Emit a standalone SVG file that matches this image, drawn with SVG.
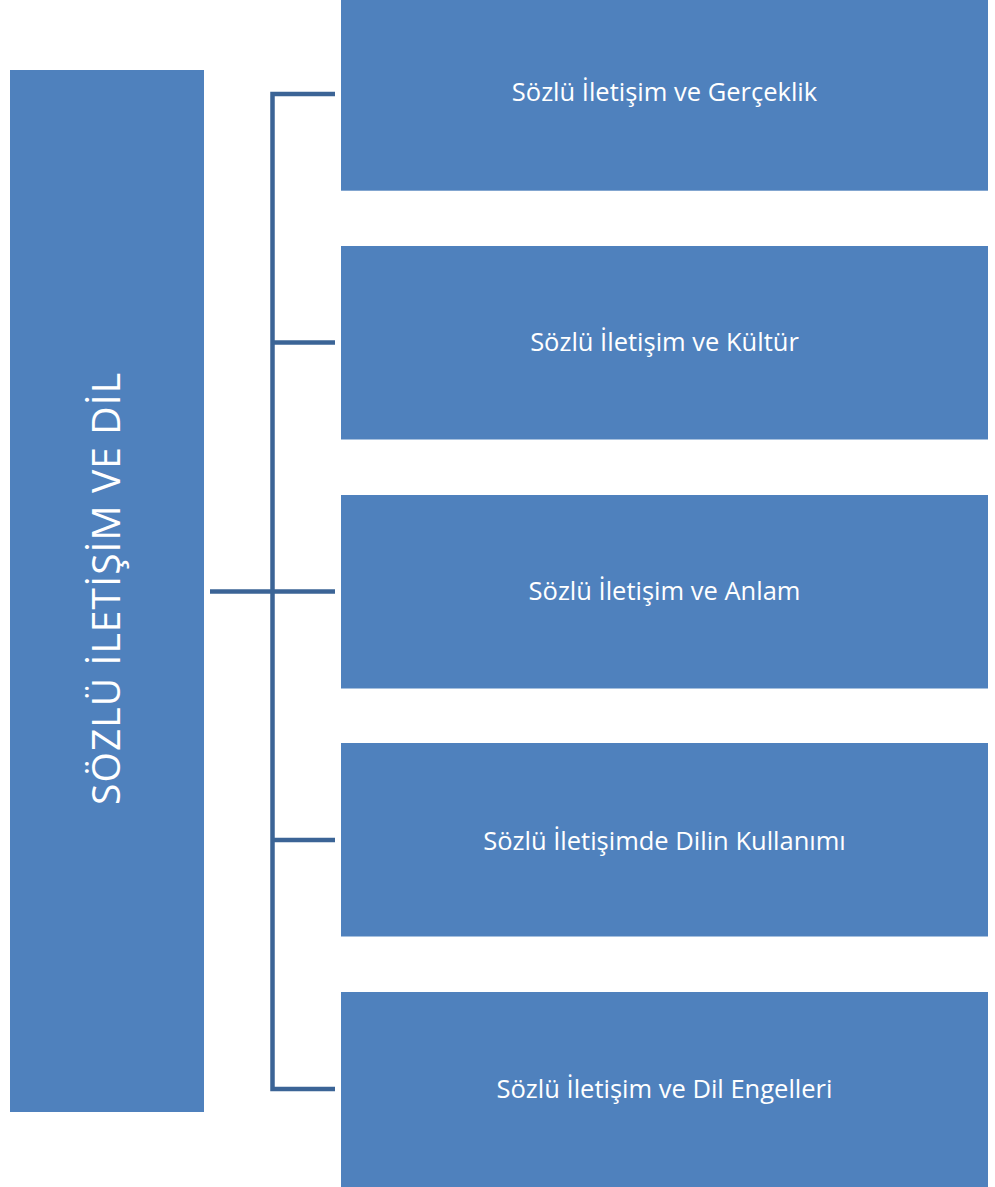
<svg xmlns="http://www.w3.org/2000/svg" width="995" height="1187" viewBox="0 0 995 1187">
<style>
.box{fill:#4f81bd;}
.lbl{font-family:"Open Sans","Noto Sans","Liberation Sans",sans-serif;font-size:25.5px;fill:#ffffff;text-anchor:middle;}
.title{font-family:"Open Sans","Noto Sans","Liberation Sans",sans-serif;font-size:39px;fill:#ffffff;text-anchor:middle;}
.conn{fill:none;stroke:#3b6496;stroke-width:4.5;}
</style>
<rect x="0" y="0" width="995" height="1187" fill="#ffffff"/>
<g id="connectors">
<path class="conn" d="M335,94 H272.5 V1089 H335"/>
<path class="conn" d="M210,591.5 H335"/>
<path class="conn" d="M272.5,342.5 H335"/>
<path class="conn" d="M272.5,840 H335"/>
</g>
<g id="root">
<rect class="box" x="10" y="70" width="194" height="1042"/>
<text class="title" transform="translate(120,589) rotate(-90)" x="0" y="0" textLength="432" lengthAdjust="spacing">SÖZLÜ İLETİŞİM VE DİL</text>
</g>
<g id="node1">
<rect class="box" x="341" y="-3" width="647" height="193.7"/>
<text class="lbl" x="664.5" y="101">Sözlü İletişim ve Gerçeklik</text>
</g>
<g id="node2">
<rect class="box" x="341" y="246" width="647" height="193.5"/>
<text class="lbl" x="664.5" y="350.5">Sözlü İletişim ve Kültür</text>
</g>
<g id="node3">
<rect class="box" x="341" y="495" width="647" height="193.5"/>
<text class="lbl" x="664.5" y="600">Sözlü İletişim ve Anlam</text>
</g>
<g id="node4">
<rect class="box" x="341" y="743" width="647" height="193.5"/>
<text class="lbl" x="664.5" y="849.5">Sözlü İletişimde Dilin Kullanımı</text>
</g>
<g id="node5">
<rect class="box" x="341" y="992" width="647" height="195"/>
<text class="lbl" x="664.5" y="1097.5">Sözlü İletişim ve Dil Engelleri</text>
</g>
</svg>
